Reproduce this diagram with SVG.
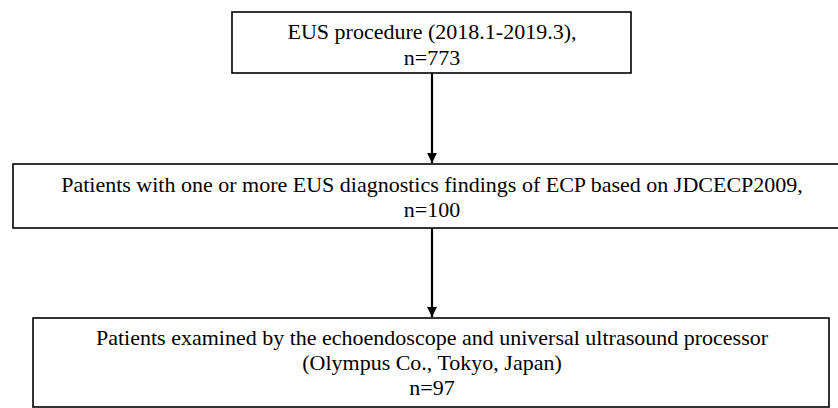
<svg xmlns="http://www.w3.org/2000/svg" width="838" height="408" viewBox="0 0 838 408">
<style>
.box{fill:#fff;stroke:#000;stroke-width:1.6}
.t{font-family:"Liberation Serif","Times New Roman",serif;font-size:22px;fill:#000;text-anchor:middle}
.c{stroke:#000;stroke-width:2.2;fill:none}
</style>
<defs>
<marker id="ah" viewBox="0 0 10 10" refX="10" refY="5" markerWidth="4.5" markerHeight="4.5" markerUnits="strokeWidth" orient="auto">
<path d="M0,0 L10,5 L0,10 z" fill="#000"/>
</marker>
</defs>
<rect width="838" height="408" fill="#fff"/>
<g id="n1">
<rect class="box" x="232" y="12" width="399" height="61"/>
<text class="t" x="432" y="39">EUS procedure (2018.1-2019.3),</text>
<text class="t" x="432" y="65">n=773</text>
</g>
<g id="n2">
<rect class="box" x="13" y="164" width="845" height="64"/>
<text class="t" x="432" y="192">Patients with one or more EUS diagnostics findings of ECP based on JDCECP2009,</text>
<text class="t" x="432" y="217">n=100</text>
</g>
<g id="n3">
<rect class="box" x="33" y="318" width="796" height="89"/>
<text class="t" x="432" y="345">Patients examined by the echoendoscope and universal ultrasound processor</text>
<text class="t" x="432" y="370">(Olympus Co., Tokyo, Japan)</text>
<text class="t" x="432" y="395">n=97</text>
</g>
<g id="connectors">
<line class="c" x1="432" y1="73" x2="432" y2="163" marker-end="url(#ah)"/>
<line class="c" x1="432" y1="228" x2="432" y2="317" marker-end="url(#ah)"/>
</g>
</svg>
